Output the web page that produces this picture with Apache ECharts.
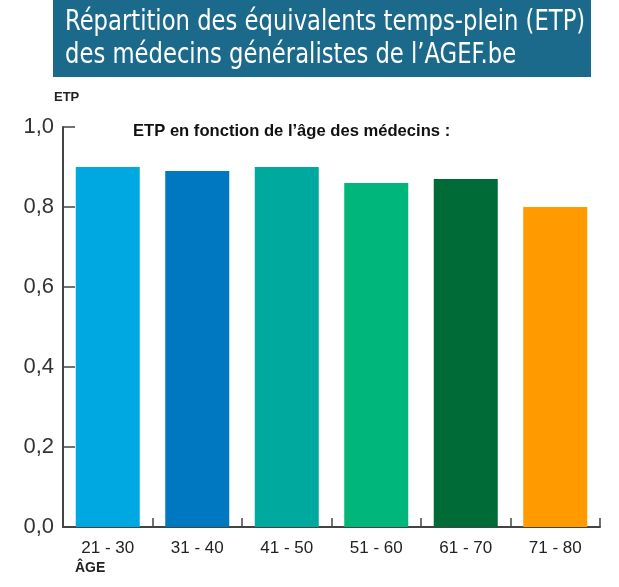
<!DOCTYPE html>
<html>
<head>
<meta charset="utf-8">
<script src="https://cdn.jsdelivr.net/npm/echarts@6/dist/echarts.min.js"></script>
<style>
  html, body { margin: 0; padding: 0; background: #fff; }
  #chart { width: 619px; height: 587px; }
</style>
</head>
<body>
<div id="chart"></div>
<script>
// tranches d'âge et ETP moyens
const ageGroups = ['21 - 30', '31 - 40', '41 - 50', '51 - 60', '61 - 70', '71 - 80'];
const etpValues = [0.90, 0.89, 0.90, 0.86, 0.87, 0.80];
const barColors = ['#00a8e1', '#0077c1', '#00a99e', '#00b67a', '#006b36', '#ff9b00'];
const titleLines = ['Répartition des équivalents temps-plein (ETP)', 'des médecins généralistes de l’AGEF.be'];

const myChart = echarts.init(document.getElementById('chart'));

let option = {
    backgroundColor: '#fff',
    animation: false,
    grid: {
        left: 63,
        right: 19,
        top: 127,
        bottom: 60
    },
    graphic: [
        {
            type: 'rect',
            left: 53,
            top: 0,
            shape: { width: 538, height: 77 },
            style: { fill: '#1b6a8b' }
        },
        {
            type: 'text',
            x: 65,
            y: 6,
            scaleX: 0.87,
            style: {
                text: titleLines.join('\n'),
                fill: '#fff',
                font: '29px "DejaVu Sans Condensed", "DejaVu Sans", sans-serif',
                lineHeight: 33
            }
        },
        {
            type: 'text',
            left: 54,
            top: 91,
            style: {
                text: 'ETP',
                fill: '#222',
                font: 'bold 13px "Liberation Sans", sans-serif'
            }
        },
        {
            type: 'text',
            left: 133,
            top: 123,
            style: {
                text: 'ETP en fonction de l’âge des médecins :',
                fill: '#111',
                font: 'bold 16.6px "Liberation Sans", sans-serif'
            }
        },
        {
            type: 'text',
            left: 75,
            top: 561,
            style: {
                text: 'ÂGE',
                fill: '#222',
                font: 'bold 14px "Liberation Sans", sans-serif'
            }
        }
    ],
    xAxis: [{
        type: 'category',
        data: ageGroups,
        boundaryGap: true,
        axisLine: {
            lineStyle: { color: '#444', width: 2 }
        },
        axisTick: {
            show: true,
            inside: true,
            length: 9,
            lineStyle: { color: '#444', width: 1.5 }
        },
        axisLabel: {
            color: '#222',
            fontSize: 17,
            fontFamily: 'Liberation Sans',
            margin: 13
        }
    }],
    yAxis: [{
        type: 'value',
        min: 0,
        max: 1,
        interval: 0.2,
        axisLine: {
            show: true,
            lineStyle: { color: '#444', width: 2 }
        },
        axisTick: {
            show: true,
            inside: true,
            length: 12,
            lineStyle: { color: '#444', width: 1.5 }
        },
        axisLabel: {
            color: '#333',
            fontSize: 22,
            fontFamily: 'Liberation Sans',
            margin: 9,
            formatter: function (v) {
                return v.toFixed(1).replace('.', ',');
            }
        },
        splitLine: { show: false }
    }],
    series: [{
        type: 'bar',
        data: etpValues.map((v, i) => ({
            value: v,
            itemStyle: { color: barColors[i] }
        })),
        barWidth: 64,
        z: 1
    }]
};
myChart.setOption(option);
</script>
</body>
</html>
